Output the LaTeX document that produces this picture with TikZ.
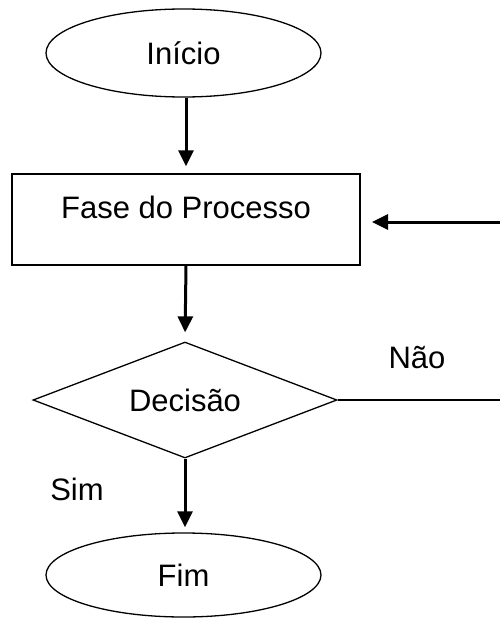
\documentclass[tikz,border=0pt]{standalone}
\usepackage{fontspec}
\setmainfont{Liberation Sans}
\usetikzlibrary{shapes.geometric,arrows.meta}
\begin{document}
\begin{tikzpicture}[x=1pt,y=-1pt,
  every node/.style={font=\fontsize{31}{37}\selectfont},
  shapeline/.style={draw=black,line width=1.3pt},
  termbox/.style={shapeline,ellipse,minimum width=275pt,inner sep=0pt},
  procbox/.style={shapeline,rectangle,minimum width=348pt,minimum height=91pt,inner sep=0pt},
  decbox/.style={shapeline,diamond,aspect=2.62,minimum width=304pt,minimum height=116pt,inner sep=0pt},
  flow/.style={line width=3pt,-{Triangle[length=16pt,width=15pt]}},
  plainline/.style={line width=1.3pt}]
\useasboundingbox (0,0) rectangle (499,618);
\node[termbox,minimum height=88pt] (start) at (183.5,53) {Início};
\node[procbox] (proc) at (186,219.5) {};
\node (proctext) at (186,207) {Fase do Processo};
\node[decbox] (dec) at (185,400) {Decisão};
\node[termbox,minimum height=84pt] (end) at (183.5,575) {Fim};
\node (nao) at (417,358) {Não};
\node (sim) at (77,489) {Sim};
\coordinate (rin) at (500,222);
\coordinate (rtip) at (372,222);
\coordinate (rout) at (500,400);
\draw[flow,shorten >=7pt] (start.south -| proc.north) -- (proc.north);
\draw[flow,shorten >=9pt] (proc.south) -- (dec.north);
\draw[flow,shorten >=5pt] (dec.south) -- (dec.south |- end.north);
\draw[flow] (rin) -- (rtip);
\draw[plainline] (dec.east) -- (rout);
\end{tikzpicture}
\end{document}
